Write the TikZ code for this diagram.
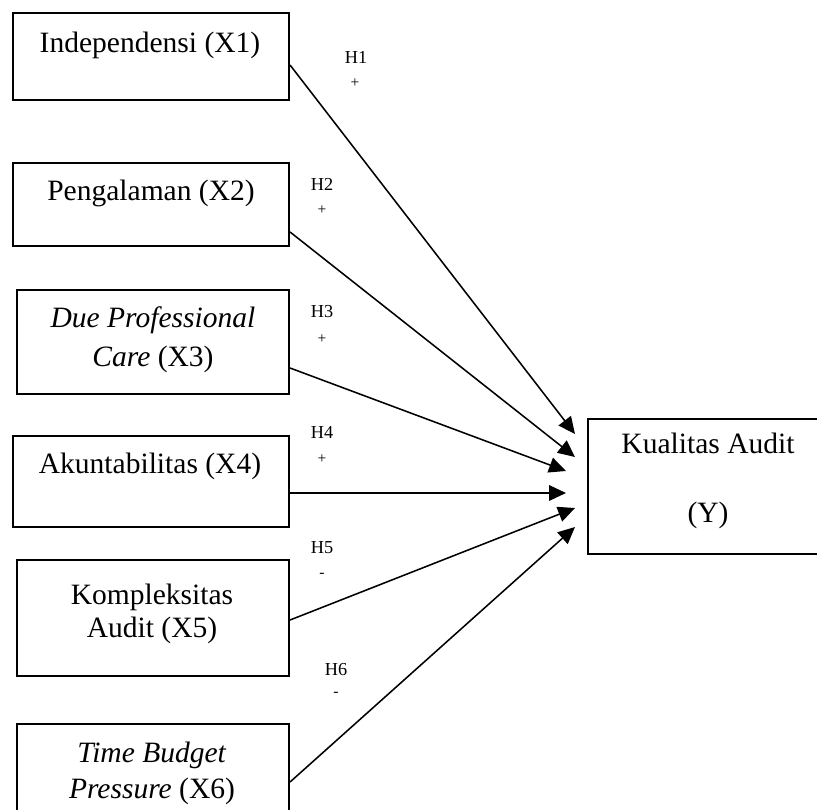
\documentclass[tikz,border=0pt]{standalone}
\usepackage{fontspec}
\setmainfont{Liberation Serif}
\usetikzlibrary{arrows.meta, calc}

\tikzset{
    box/.style={draw, line width=1.4pt, rectangle, anchor=north west, inner sep=0pt},
    txt/.style={anchor=base, align=center, inner sep=0pt, font=\fontsize{21}{25}\selectfont},
    hyp/.style={anchor=base, inner sep=0pt, font=\fontsize{13}{15}\selectfont},
    sgn/.style={inner sep=0pt, font=\fontsize{11}{13}\selectfont},
    link/.style={line width=1.1pt, -{Triangle[length=12pt, width=11pt]}}
}

\begin{document}
\begin{tikzpicture}[x=0.025cm, y=-0.025cm]
    \useasboundingbox (0,0) rectangle (817,810);
    \clip (0,0) rectangle (817,810);

    % variable boxes
    \node[box, minimum width=6.9cm, minimum height=2.175cm] (x1) at (12,12) {};
    \node[box, minimum width=6.9cm, minimum height=2.075cm] (x2) at (12,162) {};
    \node[box, minimum width=6.8cm, minimum height=2.6cm] (x3) at (16,289) {};
    \node[box, minimum width=6.9cm, minimum height=2.275cm] (x4) at (12,435) {};
    \node[box, minimum width=6.8cm, minimum height=2.9cm] (x5) at (16,559) {};
    \node[box, minimum width=6.8cm, minimum height=3cm] (x6) at (16,723) {};
    \node[box, minimum width=6.5cm, minimum height=3.375cm] (y) at (587,418) {};

    % box texts (base = last line)
    \node[txt] (t1) at (150,52) {Independensi (X1)};
    \node[txt] (t2) at (151,200) {Pengalaman (X2)};
    \node[txt] (t3) at (153,366) {\textit{Due Professional}\\[2.7pt]\textit{Care} (X3)};
    \node[txt] (t4) at (150,473) {Akuntabilitas (X4)};
    \node[txt] (t5) at (152,637) {Kompleksitas\\[-2.2pt]Audit (X5)};
    \node[txt] (t6) at (152,798) {\textit{Time Budget}\\[0.6pt]\textit{Pressure} (X6)};
    \node[txt] (ty) at (708,522) {Kualitas Audit\\[23.4pt](Y)};

    % arrow ends
    \coordinate (e1) at ($ (y.north west) + (-12,16) $);
    \coordinate (e2) at ($ (y.north west) + (-12,39) $);
    \coordinate (e3) at ($ (y.north west) + (-21,53) $);
    \coordinate (e4) at ($ (y.north west) + (-21,75) $);
    \coordinate (e5) at ($ (y.north west) + (-12,90) $);
    \coordinate (e6) at ($ (y.north west) + (-12,109) $);

    % hypotheses
    \draw[link] ($ (x1.north east) + (0,53) $) -- (e1);
    \draw[link] ($ (x2.north east) + (0,70) $) -- (e2);
    \draw[link] ($ (x3.north east) + (0,79) $) -- (e3);
    \draw[link] ($ (x4.north east) + (0,58) $) -- (e4);
    \draw[link] ($ (x5.north east) + (0,61) $) -- (e5);
    \draw[link] ($ (x6.north east) + (0,59) $) -- (e6);

    % labels
    \node[hyp] (h1) at (356,63) {H1};
    \node[sgn] (p1) at (355,83) {+};
    \node[hyp] (h2) at (322,190) {H2};
    \node[sgn] (p2) at (322,210) {+};
    \node[hyp] (h3) at (322,317) {H3};
    \node[sgn] (p3) at (322,339) {+};
    \node[hyp] (h4) at (322,438) {H4};
    \node[sgn] (p4) at (322,459) {+};
    \node[hyp] (h5) at (322,553) {H5};
    \node[sgn] (p5) at (322,575) {-};
    \node[hyp] (h6) at (336,675) {H6};
    \node[sgn] (p6) at (336,694) {-};

\end{tikzpicture}
\end{document}
